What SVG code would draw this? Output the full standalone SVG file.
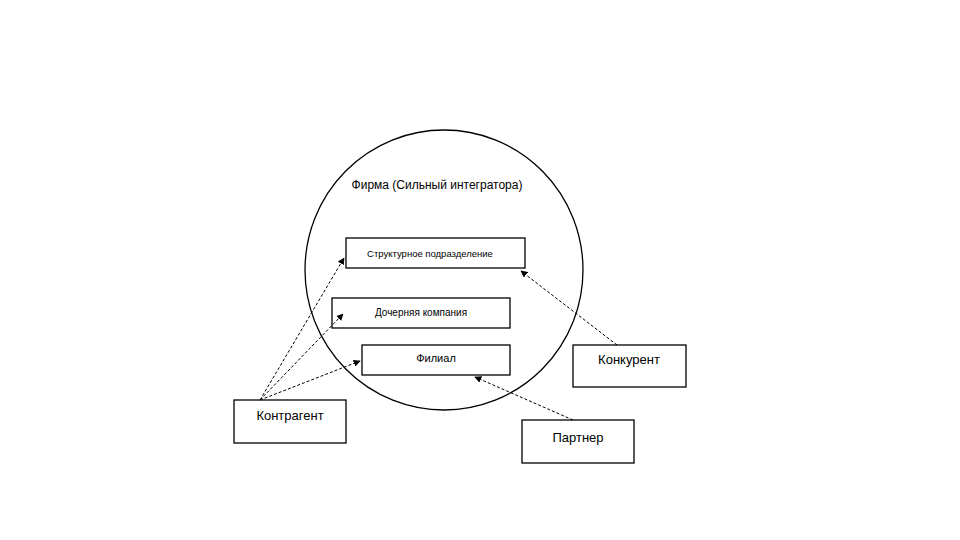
<svg xmlns="http://www.w3.org/2000/svg" width="960" height="540" viewBox="0 0 960 540">
<defs>
<marker id="ah" viewBox="0 0 10 10" refX="9" refY="5" markerWidth="7" markerHeight="7" orient="auto" markerUnits="userSpaceOnUse">
<path d="M0,0 L10,5 L0,10 z" fill="#000"/>
</marker>
<style>
.box{fill:#fff;stroke:#000;stroke-width:1.3}
.t{font-family:"Liberation Sans",Arial,sans-serif;fill:#000;text-anchor:middle}
.c{fill:none;stroke:#000;stroke-width:1;stroke-dasharray:3 2;marker-end:url(#ah)}
</style>
</defs>
<rect width="960" height="540" fill="#fff"/>
<g id="firm">
<ellipse cx="444" cy="270" rx="139" ry="140" fill="none" stroke="#000" stroke-width="1.3"/>
<text class="t" x="437" y="189" font-size="12">Фирма (Сильный интегратора)</text>
</g>
<g id="struct">
<rect class="box" x="346" y="238" width="179" height="30"/>
<text class="t" x="430" y="257" font-size="9.5">Структурное подразделение</text>
</g>
<g id="daughter">
<rect class="box" x="332" y="298" width="178" height="30"/>
<text class="t" x="421" y="316" font-size="10">Дочерняя компания</text>
</g>
<g id="branch">
<rect class="box" x="362" y="345" width="148" height="30"/>
<text class="t" x="436" y="362" font-size="11">Филиал</text>
</g>
<g id="competitor">
<rect class="box" x="573" y="345" width="113" height="42"/>
<text class="t" x="629" y="364" font-size="13">Конкурент</text>
</g>
<g id="counterparty">
<rect class="box" x="234" y="400" width="112" height="43"/>
<text class="t" x="290" y="420" font-size="13">Контрагент</text>
</g>
<g id="partner">
<rect class="box" x="522" y="420" width="112" height="43"/>
<text class="t" x="578" y="442" font-size="13">Партнер</text>
</g>
<g id="connectors">
<path class="c" d="M260,400 L344,258"/>
<path class="c" d="M260,400 L343,314"/>
<path class="c" d="M260,400 L360,361"/>
<path class="c" d="M617,345 L521,271"/>
<path class="c" d="M573,420 L475,377"/>
</g>
</svg>
